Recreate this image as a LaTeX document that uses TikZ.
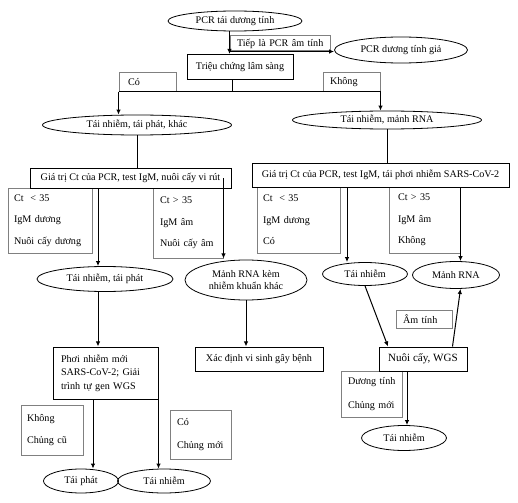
\documentclass[tikz,border=0pt]{standalone}
\usepackage{fontspec}
\setmainfont{Liberation Serif}
\usetikzlibrary{shapes.geometric,arrows.meta}
\definecolor{gboxc}{HTML}{808080}
\newcommand{\oneln}[1]{\mbox{#1}}
\tikzset{
  ell/.style 2 args={draw, ellipse, line width=0.6pt, inner sep=0pt, align=center,
    minimum width={#1*0.75pt}, minimum height={#2*0.75pt}, font=\fontsize{7.6}{9.5}\selectfont},
  bx/.style 2 args={draw, rectangle, fill=white, line width=0.75pt, inner sep=0pt, align=center,
    minimum width={#1*0.75pt}, minimum height={#2*0.75pt}, font=\fontsize{7.6}{9.5}\selectfont},
  gb/.style 2 args={draw=gboxc, rectangle, line width=0.75pt, inner xsep=0pt, inner ysep=0pt, align=left,
    minimum width={#1*0.75pt}, minimum height={#2*0.75pt}, text width={(#1-14)*0.75pt},
    font=\fontsize{7.6}{16}\selectfont},
  con/.style={line width=0.75pt},
  arr/.style={line width=0.75pt, -{Latex[length=3.8pt,width=3.4pt]}},
}
\begin{document}
\begin{tikzpicture}[x=0.75pt,y=-0.75pt]
\useasboundingbox (0,0) rectangle (518,503);
% gray label boxes
\node[gb={100}{15}] (tiep) at (280,43.5) {\oneln{Tiếp là PCR âm tính}};
\node[gb={57}{19}, text width={(57-18)*0.75pt}] (co1) at (147.5,82.5) {Có};
\node[gb={57}{19}] (khong1) at (351.5,82.5) {Không};
\node[gb={84}{65}, text width={(84-12)*0.75pt}] (g1) at (50,220.5) {\oneln{Ct \ < 35}\\\oneln{IgM dương}\\\oneln{Nuôi cấy dương}};
\node[gb={70}{70}] (g2) at (188,223) {\oneln{Ct > 35}\\\oneln{IgM âm}\\\oneln{Nuôi cấy âm}};
\node[gb={83}{66}, text width={(83-12)*0.75pt}] (g3) at (298.5,220) {\oneln{Ct \ < 35}\\\oneln{IgM dương}\\Có};
\node[gb={71}{66}, text width={(71-18)*0.75pt}] (g4) at (424.5,220) {\oneln{Ct > 35}\\\oneln{IgM âm}\\Không};
\node[gb={56}{18}] (am) at (424,319) {\oneln{Âm tính}};
\node[gb={61}{46}, font=\fontsize{7.6}{18}\selectfont] (dt) at (371.5,394) {\oneln{Dương tính}\\\oneln{Chủng mới}};
\node[gb={62}{50}, text width={(62-12)*0.75pt}, font=\fontsize{7.6}{17}\selectfont] (kc) at (52,430) {Không\\\oneln{Chủng cũ}};
\node[gb={61}{49}, font=\fontsize{7.6}{17}\selectfont] (cm) at (200.5,434.5) {Có\\\oneln{Chủng mới}};
% ellipses
\node[ell={134}{20}] (pcr) at (235,21) {PCR tái dương tính};
\node[ell={133}{26}] (gia) at (401,50) {PCR dương tính giả};
\node[ell={189}{20}] (tn1) at (137,125) {Tái nhiễm, tái phát, khác};
\node[ell={189}{18}] (tn2) at (387,120) {Tái nhiễm, mảnh RNA};
\node[ell={136}{25}] (ttp) at (105,279) {Tái nhiễm, tái phát};
\node[ell={122}{40}] (mrk) at (246,280) {Mảnh RNA kèm\\nhiễm khuẩn khác};
\node[ell={85}{23}] (tn3) at (365,274) {Tái nhiễm};
\node[ell={87}{27}] (mr) at (456,275) {Mảnh RNA};
\node[ell={85}{25}] (tn4) at (404,438) {Tái nhiễm};
\node[ell={75}{24}] (tp) at (81,481) {Tái phát};
\node[ell={93}{24}] (tn5) at (164,481) {Tái nhiễm};
% black boxes
\node[bx={106}{25}] (trieu) at (240,67) {Triệu chứng lâm sàng};
\node[bx={201}{20}] (gt1) at (130.5,178) {Giá trị Ct của PCR, test IgM, nuôi cấy vi rút};
\node[bx={257}{24}] (gt2) at (380.5,175) {Giá trị Ct của PCR, test IgM, tái phơi nhiễm SARS-CoV-2};
\node[bx={105}{52}, align=left, text width={(105-16)*0.75pt}, font=\fontsize{7.6}{10.2}\selectfont] (pn) at (105.5,373) {Phơi nhiễm mới\\SARS-CoV-2; Giải\\trình tự gen WGS};
\node[bx={128}{24}] (xd) at (259,359) {Xác định vi sinh gây bệnh};
\node[bx={88}{24}, font=\fontsize{8.3}{10}\selectfont] (nc) at (423,359) {Nuôi cấy, WGS};
% helper coordinates
\coordinate (j) at (232,92);
\coordinate (x98) at (98,0);
\coordinate (x93) at (93,0);
\coordinate (x347) at (347,0);
\coordinate (x388) at (388,0);
\coordinate (x407) at (407,0);
% connectors
\draw[arr] (pcr.south -| tiep.west) -- (trieu.north -| tiep.west);
\draw[arr] (tiep.south west) -- (tiep.south west -| gia.west);
\draw[con] (trieu.south -| j) -- (j);
\draw[con] (j -| co1.west) -- (j -| khong1.east);
\draw[arr] (j -| co1.west) -- (tn1.north -| co1.west);
\draw[arr] (j -| khong1.east) -- (tn2.north -| khong1.east);
\draw[con] (tn1.south) -- (tn1.south |- gt1.north);
\draw[con] (tn2.south) -- (tn2.south |- gt2.north);
\draw[arr] (gt1.south -| x98) -- (x98 |- ttp.north);
\draw[arr] (gt1.center -| g2.east) -- (g2.south east);
\draw[arr] (ttp.south -| x98) -- (x98 |- pn.north);
\draw[arr] (mrk.south) -- (mrk.south |- xd.north);
\draw[arr] (pn.south -| x93) -- (x93 |- tp.north);
\draw[arr] (pn.south east) -- (pn.south east |- tn5.north);
\draw[arr] (gt2.south -| x347) -- (x347 |- tn3.north);
\draw[arr] (gt2.south -| g4.east) -- (g4.east |- mr.north);
\draw[arr] (tn3.south) -- (nc.north -| x388);
\draw[arr] (nc.north -| am.east) -- (mr.south -| g4.east);
\draw[arr] (nc.south -| x407) -- (x407 |- tn4.north);
\end{tikzpicture}
\end{document}
